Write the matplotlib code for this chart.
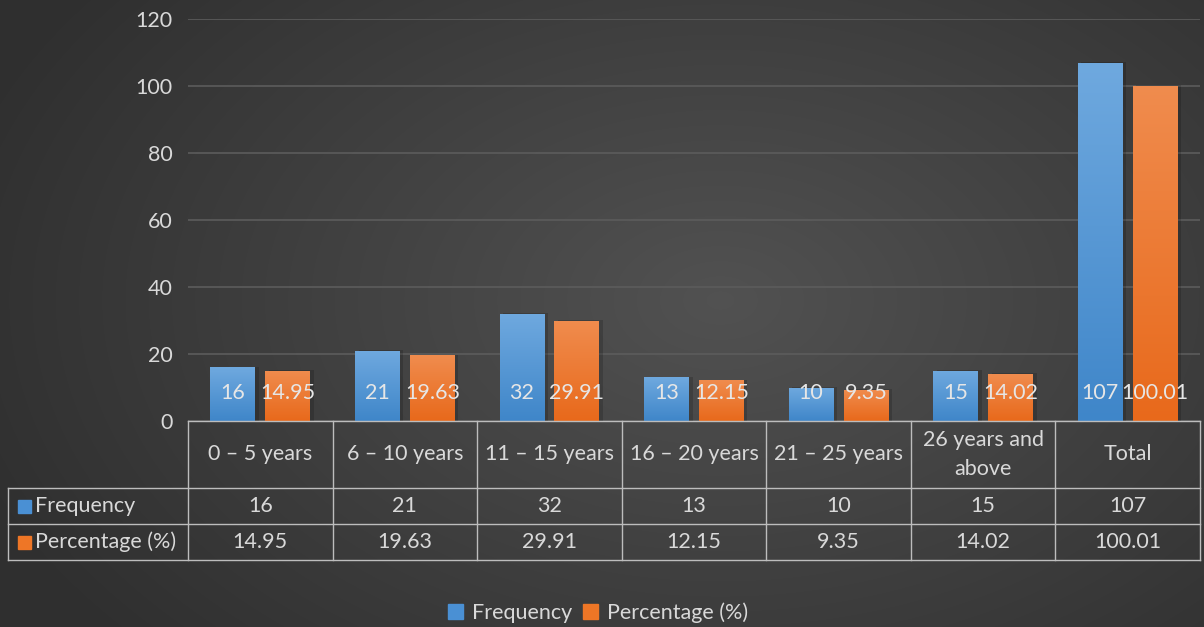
import numpy as np
import matplotlib
matplotlib.use("Agg")
import matplotlib.pyplot as plt
from matplotlib.patches import Rectangle

plt.rcParams['font.family'] = ['Lato', 'DejaVu Sans']

categories = ["0 – 5 years", "6 – 10 years", "11 – 15 years", "16 – 20 years",
              "21 – 25 years", "26 years and\nabove", "Total"]
frequency = [16, 21, 32, 13, 10, 15, 107]
percentage = [14.95, 19.63, 29.91, 12.15, 9.35, 14.02, 100.01]
freq_labels = ["16", "21", "32", "13", "10", "15", "107"]
pct_labels = ["14.95", "19.63", "29.91", "12.15", "9.35", "14.02", "100.01"]
series = ["Frequency", "Percentage (%)"]

W, H = 1204, 627
fs = 15.5
fig = plt.figure(figsize=(W / 100, H / 100), dpi=100)

# radial gradient background
bg = fig.add_axes([0, 0, 1, 1])
yy, xx = np.mgrid[0:H, 0:W]
r = np.sqrt(((xx - 720) / 800.0) ** 2 + ((yy - 300) / 520.0) ** 2)
r = np.clip(r, 0, 1)
g = 0.32 - 0.135 * r
bg.imshow(np.dstack([g, g, g]), extent=[0, W, H, 0], aspect='auto')
bg.set_axis_off()

txt = "#d9d9d9"
blue = "#4a90d4"
orange = "#ee7626"
grid_c = "#5c5c5c"
line_c = "#bdbdbd"

left, right, top, base = 188, 1200, 19, 421
ax = fig.add_axes([left / W, (H - base) / H, (right - left) / W, (base - top) / H])
ax.patch.set_alpha(0)
x = np.arange(len(categories))
bw = 0.31
off = 0.19


def grad_bars(xs, vals, c_top, c_bot):
    bars = ax.bar(xs, vals, bw, color=c_bot, zorder=3)
    grad = np.linspace(0, 1, 256).reshape(-1, 1)
    ct = np.array(matplotlib.colors.to_rgb(c_top))
    cb = np.array(matplotlib.colors.to_rgb(c_bot))
    img = ct[None, None, :] * (1 - grad[:, :, None]) + cb[None, None, :] * grad[:, :, None]
    for b in bars:
        bx, by = b.get_x(), b.get_y()
        bwid, bh = b.get_width(), b.get_height()
        # soft shadow
        ax.add_patch(Rectangle((bx + 0.025, by), bwid, bh + 0.2, color="black", alpha=0.16, zorder=2, lw=0))
        im = ax.imshow(img, extent=[bx, bx + bwid, by, by + bh], aspect='auto', zorder=4)
        im.set_clip_path(b)
    return bars


grad_bars(x - off, frequency, "#6fa9df", "#3f86c9")
grad_bars(x + off, percentage, "#f08c4e", "#e8691b")

for i in range(len(categories)):
    ax.annotate(freq_labels[i], (x[i] - off, 0), xytext=(0, 20.5), textcoords='offset points',
                ha='center', va='center', color="#e6e6e6", fontsize=fs, zorder=6)
    ax.annotate(pct_labels[i], (x[i] + off, 0), xytext=(0, 20.5), textcoords='offset points',
                ha='center', va='center', color="#e6e6e6", fontsize=fs, zorder=6)

ax.set_xlim(-0.5, len(categories) - 0.5)
ax.set_ylim(0, 120)
ax.set_yticks(range(0, 121, 20))
ax.yaxis.grid(True, color=grid_c, lw=1.2)
ax.set_axisbelow(True)
ax.set_xticks([])
ax.tick_params(axis='y', length=0, labelsize=fs, labelcolor=txt, pad=11)
for s in ax.spines.values():
    s.set_visible(False)

# data table below the plot
t_bottom = 560
tab = fig.add_axes([left / W, (H - t_bottom) / H, (right - left) / W, (t_bottom - base) / H])
tab.patch.set_alpha(0)
tab.set_xlim(-0.5, len(categories) - 0.5)
row_b = [0, 67, 103, 139]
tab.set_ylim(139, 0)
tab.set_axis_off()
col_px = (right - left) / len(categories)
x_lab = -0.5 - (left - 8) / col_px

tab.plot([-0.5, 6.5], [0, 0], color=line_c, lw=1, clip_on=False)
for yb in row_b[1:]:
    tab.plot([x_lab, 6.5], [yb, yb], color=line_c, lw=1, clip_on=False)
for xb in np.arange(-0.5, 7.0, 1.0):
    tab.plot([xb, xb], [0, 139], color=line_c, lw=1, clip_on=False)
tab.plot([x_lab, x_lab], [67, 139], color=line_c, lw=1, clip_on=False)

for i, c in enumerate(categories):
    tab.text(i, 33.5, c, ha='center', va='center', color=txt, fontsize=fs, linespacing=1.55)
    tab.text(i, 85, freq_labels[i], ha='center', va='center', color=txt, fontsize=fs)
    tab.text(i, 121, pct_labels[i], ha='center', va='center', color=txt, fontsize=fs)

sq = 13 / col_px
for yc, name, col in [(85, series[0], blue), (121, series[1], orange)]:
    tab.add_patch(Rectangle((x_lab + 10 / col_px, yc - 6.5), sq, 13, color=col, clip_on=False))
    tab.text(x_lab + 27 / col_px, yc, name, ha='left', va='center', color=txt,
             fontsize=fs, clip_on=False)

# legend
leg = fig.legend(handles=[Rectangle((0, 0), 1, 1, color=blue), Rectangle((0, 0), 1, 1, color=orange)],
                 labels=series, loc='center', bbox_to_anchor=(598 / W, 1 - 613 / H), ncol=2,
                 frameon=False, fontsize=fs, labelcolor=txt, handlelength=0.7, handleheight=0.7,
                 handletextpad=0.4, columnspacing=0.5)

fig.savefig("out.png", dpi=100)
